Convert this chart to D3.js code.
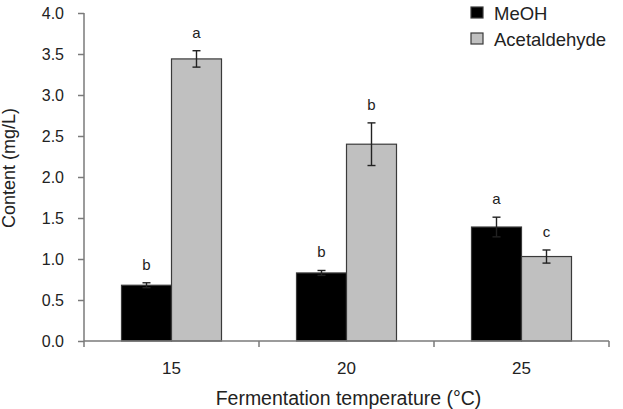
<!DOCTYPE html>
<html><head><meta charset="utf-8">
<script src="https://cdn.jsdelivr.net/npm/d3@7"></script>
<style>body{margin:0;background:#fff}svg{display:block;font-family:"Liberation Sans",Arial,sans-serif}</style>
</head><body><svg id="c" width="623" height="409"></svg>
<script>
const categories = ["15","20","25"];
const series = ["MeOH","Acetaldehyde"];
const meoh = [0.68, 0.83, 1.39];
const meohErr = [0.03, 0.03, 0.12];
const acet = [3.44, 2.40, 1.03];
const acetErr = [0.10, 0.26, 0.08];
const meohLetters = ["b","b","a"];
const acetLetters = ["a","b","c"];
const yTicks = [0,0.5,1,1.5,2,2.5,3,3.5,4];
const colors = {MeOH:"#000000", Acetaldehyde:"#c0c0c0"};

(function(){
const svg = d3.select("#c");
const mL = 84, mR = 609, mT = 13, mB = 341;
const y = d3.scaleLinear().domain([0,4]).range([mB, mT]);
const x0 = d3.scaleBand().domain(categories).range([mL, mR]).padding(0);
const x1 = d3.scaleBand().domain(series).range([0, x0.bandwidth()]).paddingInner(0).paddingOuter(0.75);
const axisColor = "#7a7a7a", textColor = "#222";
const FF = "Liberation Sans, Arial, sans-serif";

const data = categories.map((c,i)=>({cat:c, vals:[
  {s:"MeOH", v:meoh[i], e:meohErr[i], l:meohLetters[i]},
  {s:"Acetaldehyde", v:acet[i], e:acetErr[i], l:acetLetters[i]}]}));

const g = svg.selectAll("g.grp").data(data).enter().append("g")
  .attr("transform", d=>`translate(${x0(d.cat)},0)`);
g.selectAll("rect").data(d=>d.vals).enter().append("rect")
  .attr("x", d=>x1(d.s)).attr("width", x1.bandwidth())
  .attr("y", d=>y(d.v)).attr("height", d=>y(0)-y(d.v))
  .attr("fill", d=>colors[d.s]).attr("stroke", "#3a3a3a").attr("stroke-width",1.2);
const cx = d=>x1(d.s)+x1.bandwidth()/2;
const eb = g.selectAll("g.eb").data(d=>d.vals).enter().append("g").attr("stroke","#222").attr("stroke-width",1.4);
eb.append("line").attr("x1",cx).attr("x2",cx).attr("y1",d=>y(d.v+d.e)).attr("y2",d=>y(d.v-d.e));
eb.append("line").attr("x1",d=>cx(d)-4).attr("x2",d=>cx(d)+4).attr("y1",d=>y(d.v+d.e)).attr("y2",d=>y(d.v+d.e));
eb.append("line").attr("x1",d=>cx(d)-4).attr("x2",d=>cx(d)+4).attr("y1",d=>y(d.v-d.e)).attr("y2",d=>y(d.v-d.e));
g.selectAll("text.let").data(d=>d.vals).enter().append("text")
  .attr("x",cx).attr("y",d=>y(d.v+d.e)-13)
  .attr("text-anchor","middle").attr("font-size",15).attr("fill",textColor).text(d=>d.l);

const ya = svg.append("g").attr("transform",`translate(${mL},0)`)
  .call(d3.axisLeft(y).tickValues(yTicks).tickFormat(d3.format(".1f")).tickSize(6).tickPadding(14));
ya.selectAll("path,line").attr("stroke",axisColor).attr("stroke-width",1.5);
ya.select(".domain").attr("d",`M0,${mT}V${mB}`);
ya.selectAll("text").attr("font-size",16).attr("fill",textColor).attr("font-family",FF).attr("dy","0.36em");

const xa = svg.append("g").attr("transform",`translate(0,${mB})`)
  .call(d3.axisBottom(x0).tickSize(0).tickPadding(21));
xa.select(".domain").attr("stroke",axisColor).attr("stroke-width",1.5).attr("d",`M${mL},0H${mR}`);
xa.selectAll("text").attr("font-size",17).attr("fill",textColor).attr("font-family",FF);
const bounds = [x0.range()[0]].concat(categories.map(d=>x0(d)+x0.bandwidth()));
xa.selectAll("line.bound").data(bounds).enter().append("line").attr("class","bound")
  .attr("x1",d=>d).attr("x2",d=>d)
  .attr("y1",0).attr("y2",6).attr("stroke",axisColor).attr("stroke-width",1.5);

svg.append("text").attr("x",(mL+mR)/2 + 2).attr("y",405).attr("text-anchor","middle")
  .attr("font-size",19.5).attr("fill",textColor).text("Fermentation temperature (°C)");
svg.append("text").attr("transform",`translate(15,168) rotate(-90)`).attr("text-anchor","middle")
  .attr("font-size",18).attr("fill",textColor).text("Content (mg/L)");

const lg = svg.append("g").attr("transform","translate(471,7)");
const li = lg.selectAll("g").data(series).enter().append("g").attr("transform",(d,i)=>`translate(0,${i*26})`);
li.append("rect").attr("width",12).attr("height",11).attr("fill",d=>colors[d]).attr("stroke","#3a3a3a").attr("stroke-width",1.2);
li.append("text").attr("x",23).attr("y",12.5).attr("font-size",18.5).attr("fill",textColor).text(d=>d);
})();
</script></body></html>
